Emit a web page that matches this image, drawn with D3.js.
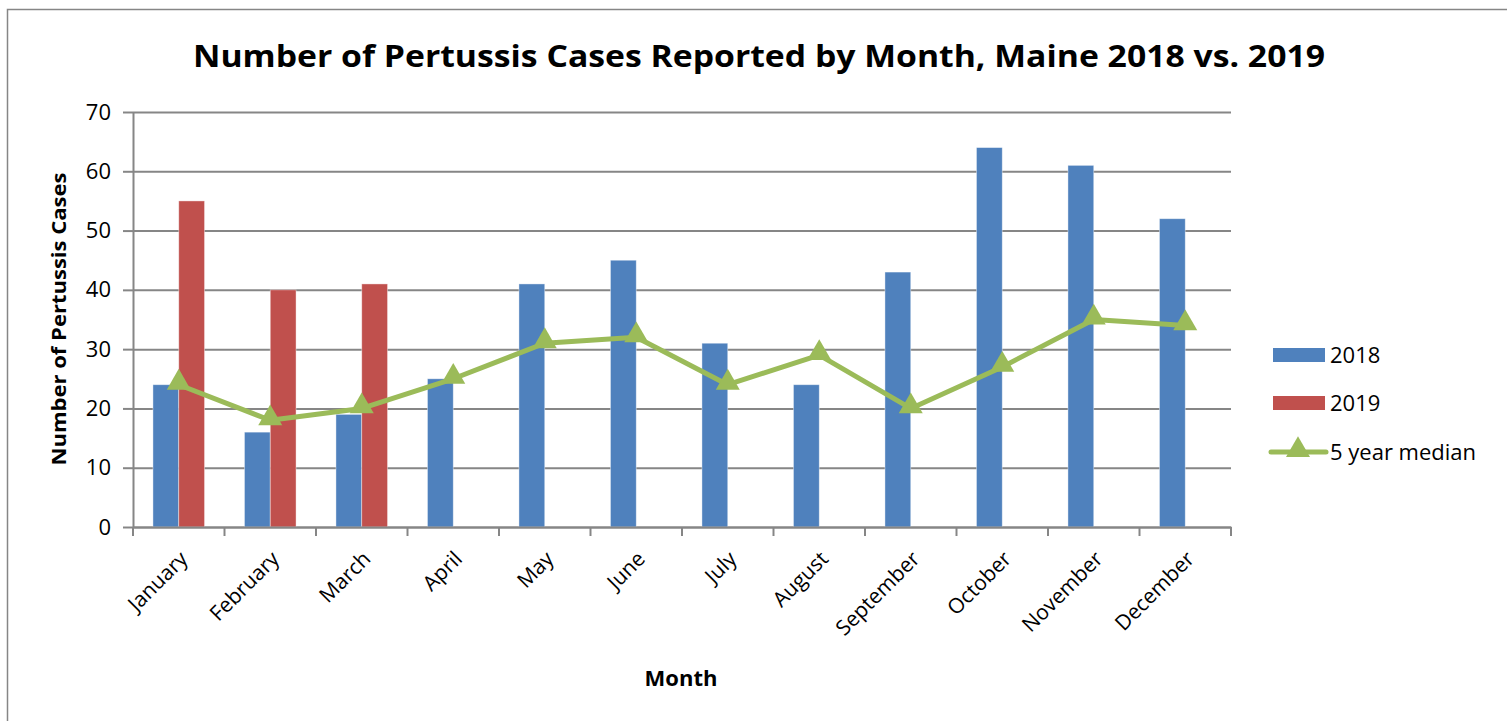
<!DOCTYPE html>
<html>
<head>
<meta charset="utf-8">
<script src="https://cdn.jsdelivr.net/npm/d3@7"></script>
<style>
  body { margin: 0; background: #fff; }
  text { font-family: "Open Sans", "Liberation Sans", sans-serif; fill: #000; }
</style>
</head>
<body>
<div id="chart"></div>
<script>
// data
const months = ["January", "February", "March", "April", "May", "June",
  "July", "August", "September", "October", "November", "December"];
const cases2018 = [24, 16, 19, 25, 41, 45, 31, 24, 43, 64, 61, 52];
const cases2019 = [55, 40, 41, null, null, null, null, null, null, null, null, null];
const median5yr = [24, 18, 20, 25, 31, 32, 24, 29, 20, 27, 35, 34];
const yTicks = [0, 10, 20, 30, 40, 50, 60, 70];

const width = 1507, height = 721;
const margin = { top: 112, bottom: 194, left: 133, right: 276 };
const blue = "#4F81BD", red = "#C0504D", green = "#9BBB59", grey = "#868686";

const svg = d3.select("#chart").append("svg")
  .attr("width", width)
  .attr("height", height);

// outer frame
svg.append("rect")
  .attr("x", 7.5).attr("y", 9.5)
  .attr("width", 1520).attr("height", 730)
  .attr("fill", "none").attr("stroke", grey).attr("stroke-width", 1.5);

// + SCALES
const xScale = d3.scaleBand()
  .domain(months)
  .range([margin.left, width - margin.right])
  .padding(0);

const seriesScale = d3.scaleBand()
  .domain(["2018", "2019"])
  .range([0, xScale.bandwidth()])
  .paddingInner(0)
  .paddingOuter(0.773);

const yScale = d3.scaleLinear()
  .domain([0, 70])
  .range([height - margin.bottom, margin.top]);

// gridlines
svg.append("g")
  .attr("class", "grid")
  .attr("transform", `translate(${margin.left},0)`)
  .call(d3.axisLeft(yScale).tickValues(yTicks).tickFormat("")
    .tickSize(-(width - margin.left - margin.right)).tickSizeOuter(0))
  .call(g => g.select(".domain").remove())
  .call(g => g.selectAll("line").attr("stroke", grey).attr("stroke-width", 2));

// bars
svg.append("g").selectAll("rect")
  .data(cases2018)
  .join("rect")
  .attr("x", (d, i) => xScale(months[i]) + seriesScale("2018"))
  .attr("y", d => yScale(d))
  .attr("width", seriesScale.bandwidth())
  .attr("height", d => yScale(0) - yScale(d))
  .attr("fill", blue)
  .attr("stroke", "#fff").attr("stroke-opacity", 0.5).attr("stroke-width", 0.8);

svg.append("g").selectAll("rect")
  .data(cases2019.map((v, i) => ({ v, i })).filter(d => d.v != null))
  .join("rect")
  .attr("x", d => xScale(months[d.i]) + seriesScale("2019"))
  .attr("y", d => yScale(d.v))
  .attr("width", seriesScale.bandwidth())
  .attr("height", d => yScale(0) - yScale(d.v))
  .attr("fill", red)
  .attr("stroke", "#fff").attr("stroke-opacity", 0.5).attr("stroke-width", 0.8);

// + AXES
const yAxisG = svg.append("g")
  .attr("transform", `translate(${margin.left},0)`)
  .call(d3.axisLeft(yScale).tickValues(yTicks).tickSize(10).tickSizeOuter(0).tickPadding(12));
yAxisG.select(".domain").attr("stroke", grey).attr("stroke-width", 2);
yAxisG.selectAll("line").attr("stroke", grey).attr("stroke-width", 2);
yAxisG.selectAll("text").style("font-size", "22px").attr("fill", "#000");

const xAxisG = svg.append("g")
  .attr("transform", `translate(0,${yScale(0)})`)
  .call(d3.axisBottom(xScale).tickValues([]).tickSizeOuter(0));
xAxisG.select(".domain").attr("stroke", grey).attr("stroke-width", 2);

// category boundary ticks
xAxisG.append("g").selectAll("line")
  .data(months.concat(["end"]))
  .join("line")
  .attr("x1", (d, i) => i < months.length ? xScale(d) : xScale.range()[1])
  .attr("x2", (d, i) => i < months.length ? xScale(d) : xScale.range()[1])
  .attr("y1", 0).attr("y2", 9)
  .attr("stroke", grey).attr("stroke-width", 2);

// month labels
xAxisG.append("g").selectAll("text")
  .data(months)
  .join("text")
  .attr("transform", d => `translate(${xScale(d) + xScale.bandwidth() / 2 + 5},${28}) rotate(-45)`)
  .attr("text-anchor", "end")
  .attr("dy", "0.35em")
  .style("font-size", "21px")
  .text(d => d);

// median line
const line = d3.line()
  .x((d, i) => xScale(months[i]) + xScale.bandwidth() / 2)
  .y(d => yScale(d));

svg.append("path")
  .datum(median5yr)
  .attr("fill", "none")
  .attr("stroke", green)
  .attr("stroke-width", 5)
  .attr("stroke-linejoin", "round")
  .attr("d", line);

const tri = d3.symbol().type(d3.symbolTriangle).size(250);
svg.append("g").selectAll("path")
  .data(median5yr)
  .join("path")
  .attr("transform", (d, i) => `translate(${xScale(months[i]) + xScale.bandwidth() / 2},${yScale(d) - 2})`)
  .attr("d", tri)
  .attr("fill", green);

// titles
svg.append("text")
  .attr("x", 759).attr("y", 67)
  .attr("text-anchor", "middle")
  .style("font-size", "31px").style("font-weight", "bold")
  .attr("textLength", 1132).attr("lengthAdjust", "spacingAndGlyphs")
  .text("Number of Pertussis Cases Reported by Month, Maine 2018 vs. 2019");

svg.append("text")
  .attr("transform", "translate(66,319) rotate(-90)")
  .attr("text-anchor", "middle")
  .style("font-size", "20px").style("font-weight", "bold")
  .attr("textLength", 293).attr("lengthAdjust", "spacingAndGlyphs")
  .text("Number of Pertussis Cases");

svg.append("text")
  .attr("x", 681).attr("y", 686)
  .attr("text-anchor", "middle")
  .style("font-size", "22px").style("font-weight", "bold")
  .text("Month");

// legend
const legend = svg.append("g").attr("transform", "translate(1273,0)");
const legendItems = [
  { label: "2018", color: blue, type: "bar", y: 355 },
  { label: "2019", color: red, type: "bar", y: 403 },
  { label: "5 year median", color: green, type: "line", y: 452 }
];
legendItems.forEach(item => {
  if (item.type === "bar") {
    legend.append("rect")
      .attr("x", 0).attr("y", item.y - 7)
      .attr("width", 52).attr("height", 14)
      .attr("fill", item.color);
  } else {
    legend.append("line")
      .attr("x1", -2).attr("x2", 53)
      .attr("y1", item.y).attr("y2", item.y)
      .attr("stroke", item.color).attr("stroke-width", 5)
      .attr("stroke-linecap", "round");
    legend.append("path")
      .attr("transform", `translate(25,${item.y - 2})`)
      .attr("d", tri)
      .attr("fill", item.color);
  }
  legend.append("text")
    .attr("x", 57).attr("y", item.y)
    .attr("dy", "0.35em")
    .style("font-size", "22px")
    .text(item.label);
});
</script>
</body>
</html>
